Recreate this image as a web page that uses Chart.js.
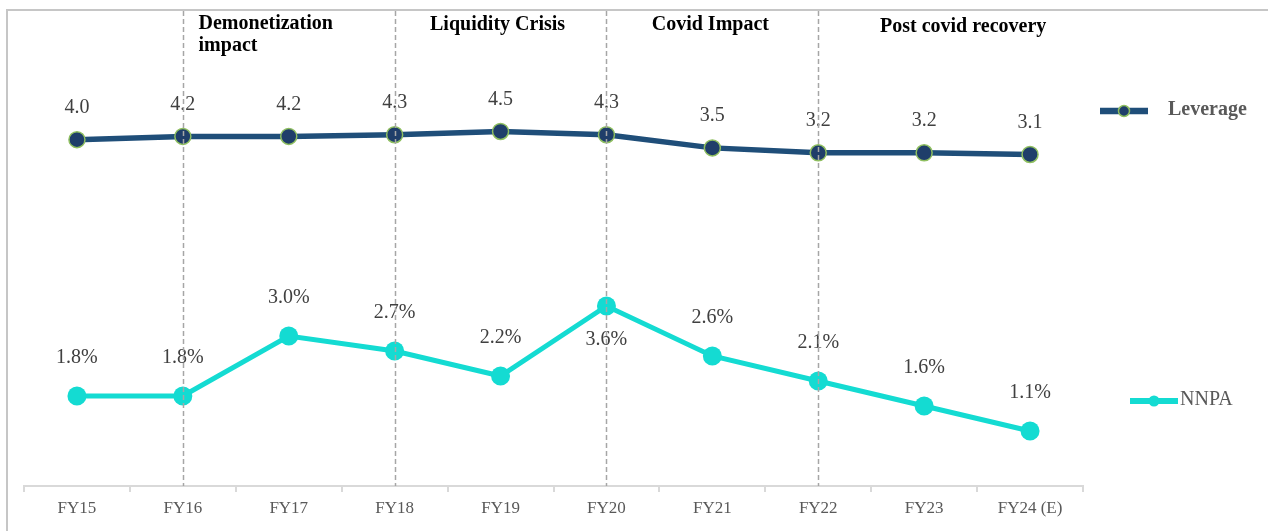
<!DOCTYPE html>
<html>
<head>
<meta charset="utf-8">
<script src="https://cdn.jsdelivr.net/npm/chart.js@4.4.1/dist/chart.umd.min.js"></script>
<style>
  html, body { margin: 0; padding: 0; background: #fff; }
</style>
</head>
<body>
<canvas id="myChart" width="1268" height="531"></canvas>
<script>
const years = ['FY15', 'FY16', 'FY17', 'FY18', 'FY19', 'FY20', 'FY21', 'FY22', 'FY23', 'FY24 (E)'];
const leverage = [4.0, 4.2, 4.2, 4.3, 4.5, 4.3, 3.5, 3.2, 3.2, 3.1];
const nnpa = [1.8, 1.8, 3.0, 2.7, 2.2, 3.6, 2.6, 2.1, 1.6, 1.1];
const phaseBreaks = ['FY16', 'FY18', 'FY20', 'FY22'];
const phaseTitles = [['Demonetization', 'impact'], ['Liquidity Crisis'], ['Covid Impact'], ['Post covid recovery']];
const phaseCentres = ['FY17', 'FY19', 'FY21', 'FY23'];

const SERIF = '"Liberation Serif", "Times New Roman", serif';
const NAVY = '#1f4e79';
const CYAN = '#14dbd2';

// frame, value labels, phase dividers and titles, legend on the right
const decor = {
  id: 'decor',
  beforeDraw(chart) {
    const c = chart.ctx;
    c.save();
    c.strokeStyle = '#c6c6c6';
    c.lineWidth = 2;
    c.beginPath();
    c.moveTo(7, 531);
    c.lineTo(7, 10);
    c.lineTo(1268, 10);
    c.stroke();
    c.restore();
  },
  afterDatasetsDraw(chart) {
    const c = chart.ctx;
    const x = chart.scales.x;
    const area = chart.chartArea;
    c.save();

    // value labels
    c.font = '20px ' + SERIF;
    c.fillStyle = '#404040';
    c.textAlign = 'center';
    c.textBaseline = 'middle';
    chart.data.datasets.forEach((ds, i) => {
      chart.getDatasetMeta(i).data.forEach((pt, j) => {
        const below = ds.labelBelow && ds.labelBelow.includes(j);
        const y = below ? pt.y + 34 : pt.y - ds.labelOffset;
        c.fillText(ds.format(ds.data[j]), pt.x, y);
      });
    });

    // phase dividers
    c.strokeStyle = '#a6a6a6';
    c.lineWidth = 1.5;
    c.setLineDash([5, 3]);
    phaseBreaks.forEach(b => {
      const px = Math.round(x.getPixelForValue(years.indexOf(b))) + 0.5;
      c.beginPath();
      c.moveTo(px, 11);
      c.lineTo(px, area.bottom);
      c.stroke();
    });
    c.setLineDash([]);

    // phase titles
    const nudge = [-23, -3, -2, 39];
    c.font = 'bold 20px ' + SERIF;
    c.fillStyle = '#000';
    phaseTitles.forEach((lines, i) => {
      const cx = x.getPixelForValue(years.indexOf(phaseCentres[i])) + nudge[i];
      if (lines.length > 1) {
        c.textAlign = 'left';
        const w = c.measureText(lines[0]).width;
        lines.forEach((t, k) => c.fillText(t, cx - w / 2, 24 + k * 22));
        c.textAlign = 'center';
      } else {
        c.fillText(lines[0], cx, i === 3 ? 27 : 25);
      }
    });

    // legend
    const items = [
      { ds: chart.data.datasets[0], x: 1100, y: 111, bold: true, textX: 1168 },
      { ds: chart.data.datasets[1], x: 1130, y: 401, bold: false, textX: 1180 },
    ];
    items.forEach(it => {
      c.strokeStyle = it.ds.borderColor;
      c.lineWidth = it.ds.borderWidth + 1;
      c.beginPath();
      c.moveTo(it.x, it.y);
      c.lineTo(it.x + 48, it.y);
      c.stroke();
      c.beginPath();
      c.arc(it.x + 24, it.y, 5.5, 0, Math.PI * 2);
      c.fillStyle = it.ds.pointBackgroundColor;
      c.fill();
      if (it.ds.pointBorderWidth) {
        c.lineWidth = 1.5;
        c.strokeStyle = it.ds.pointBorderColor;
        c.stroke();
      }
      c.font = (it.bold ? 'bold ' : '') + '20px ' + SERIF;
      c.fillStyle = '#595959';
      c.textAlign = 'left';
      c.fillText(it.ds.label, it.textX, it.y - 1);
    });

    c.restore();
  }
};

new Chart(document.getElementById('myChart'), {
  type: 'line',
  data: {
    labels: years,
    datasets: [
      {
        label: 'Leverage',
        data: leverage,
        yAxisID: 'yLev',
        borderColor: NAVY,
        borderWidth: 5.5,
        pointRadius: 8,
        pointBackgroundColor: '#1f3e6a',
        pointBorderColor: '#8fbf60',
        pointBorderWidth: 1.5,
        labelOffset: 32,
        format: v => v.toFixed(1),
      },
      {
        label: 'NNPA',
        data: nnpa,
        yAxisID: 'yNpa',
        borderColor: CYAN,
        borderWidth: 5,
        pointRadius: 9.5,
        pointBackgroundColor: CYAN,
        pointBorderWidth: 0,
        labelOffset: 38,
        labelBelow: [5],
        format: v => v.toFixed(1) + '%',
      },
    ],
  },
  options: {
    responsive: false,
    animation: false,
    devicePixelRatio: 1,
    layout: { padding: { left: 24, right: 185, top: 10, bottom: 0 } },
    elements: { line: { tension: 0 } },
    plugins: {
      legend: { display: false },
      tooltip: { enabled: false },
    },
    scales: {
      x: {
        offset: true,
        afterFit: s => { s.height = 45; },
        grid: {
          offset: true,
          drawOnChartArea: false,
          drawTicks: true,
          tickLength: 6,
          color: '#d9d9d9',
          lineWidth: 2,
        },
        border: { color: '#d9d9d9', width: 2 },
        ticks: {
          padding: 6,
          color: '#595959',
          font: { family: SERIF, size: 17 },
        },
      },
      yNpa: { display: false, min: 0, max: 9.52 },
      yLev: { display: false, min: -17.1, max: 11.9 },
    },
  },
  plugins: [decor],
});
</script>
</body>
</html>
